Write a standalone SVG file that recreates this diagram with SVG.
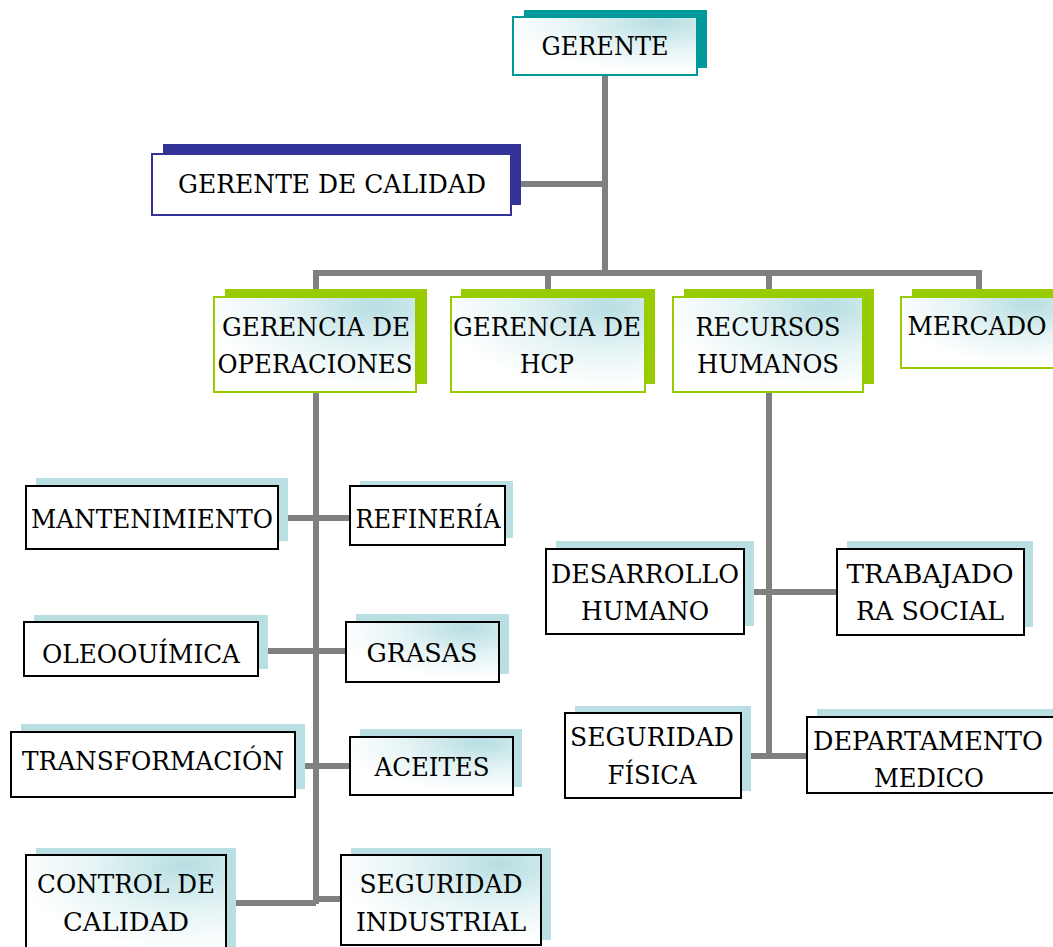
<svg xmlns="http://www.w3.org/2000/svg" width="1053" height="947" viewBox="0 0 1053 947">
<defs>
<radialGradient id="g" cx="0.8" cy="0.1" r="0.85" fx="0.8" fy="0.1">
<stop offset="0" stop-color="#b7dee2"/>
<stop offset="0.55" stop-color="#e6f4f5"/>
<stop offset="1" stop-color="#ffffff"/>
</radialGradient>
</defs>
<style>
text{font-family:"DejaVu Serif","Liberation Serif","Times New Roman",serif;font-size:25.5px;fill:#000;text-anchor:middle}
.c{stroke:#808080;stroke-width:6;fill:none}
.sh{fill:#b9dfe3}
.shg{fill:#99cc00}
.b{fill:#fff;stroke:#000;stroke-width:2}
.bg{fill:url(#g);stroke:#000;stroke-width:2}
.gb{fill:url(#g);stroke:#99cc00;stroke-width:2}
</style>
<rect width="1053" height="947" fill="#fff"/>
<g id="connectors">
<path class="c" d="M605 75V273M512 184H605M313 273H982M316 273V297M548 273V297M769 273V297M979 273V297"/>
<path class="c" d="M316 392V904M288 518H350M268 651H346M305 766H350M236 903H316M316 899H341"/>
<path class="c" d="M769 392V757M754 592H837M751 756H807"/>
</g>
<g id="gerente">
<rect x="524" y="10" width="183" height="58" fill="#009999"/>
<rect x="513" y="17" width="184" height="58" fill="url(#g)" stroke="#009999" stroke-width="2"/>
<text x="605" y="55" textLength="127" lengthAdjust="spacingAndGlyphs">GERENTE</text>
</g>
<g id="gerente-calidad">
<rect x="163" y="144" width="358" height="61" fill="#333399"/>
<rect x="152" y="154" width="359" height="61" fill="#fff" stroke="#333399" stroke-width="2"/>
<text x="332" y="193" textLength="308" lengthAdjust="spacingAndGlyphs">GERENTE DE CALIDAD</text>
</g>
<g id="operaciones">
<rect class="shg" x="225" y="289" width="202" height="95"/>
<rect class="gb" x="214" y="297" width="202" height="95"/>
<text x="316" y="336" textLength="188" lengthAdjust="spacingAndGlyphs">GERENCIA DE</text>
<text x="315" y="373" textLength="195" lengthAdjust="spacingAndGlyphs">OPERACIONES</text>
</g>
<g id="hcp">
<rect class="shg" x="461" y="289" width="194" height="95"/>
<rect class="gb" x="451" y="297" width="194" height="95"/>
<text x="547" y="336" textLength="188" lengthAdjust="spacingAndGlyphs">GERENCIA DE</text>
<text x="547" y="373" textLength="54" lengthAdjust="spacingAndGlyphs">HCP</text>
</g>
<g id="rrhh">
<rect class="shg" x="684" y="289" width="190" height="95"/>
<rect class="gb" x="673" y="297" width="190" height="95"/>
<text x="768" y="336" textLength="145" lengthAdjust="spacingAndGlyphs">RECURSOS</text>
<text x="768" y="373" textLength="142" lengthAdjust="spacingAndGlyphs">HUMANOS</text>
</g>
<g id="mercado">
<rect class="shg" x="912" y="289" width="150" height="70"/>
<rect class="gb" x="901" y="297" width="160" height="71"/>
<text x="977" y="335" textLength="139" lengthAdjust="spacingAndGlyphs">MERCADO</text>
</g>
<g id="mantenimiento">
<rect class="sh" x="36" y="478" width="252" height="63"/>
<rect class="b" x="26" y="486" width="252" height="63"/>
<text x="152" y="528" textLength="242" lengthAdjust="spacingAndGlyphs">MANTENIMIENTO</text>
</g>
<g id="refineria">
<rect class="sh" x="360" y="481" width="153" height="57"/>
<rect class="b" x="350" y="486" width="155" height="59"/>
<text x="428" y="528" textLength="145" lengthAdjust="spacingAndGlyphs">REFINERÍA</text>
</g>
<g id="oleoquimica">
<rect class="sh" x="34" y="615" width="234" height="54"/>
<rect class="b" x="24" y="622" width="234" height="54"/>
<text x="141" y="663" textLength="198" lengthAdjust="spacingAndGlyphs">OLEOOUÍMICA</text>
</g>
<g id="grasas">
<rect class="sh" x="356" y="614" width="153" height="60"/>
<rect class="bg" x="346" y="622" width="153" height="60"/>
<text x="422" y="662" textLength="111" lengthAdjust="spacingAndGlyphs">GRASAS</text>
</g>
<g id="transformacion">
<rect class="sh" x="21" y="724" width="284" height="65"/>
<rect class="b" x="11" y="732" width="284" height="65"/>
<text x="153" y="770" textLength="262" lengthAdjust="spacingAndGlyphs">TRANSFORMACIÓN</text>
</g>
<g id="aceites">
<rect class="sh" x="360" y="729" width="162" height="58"/>
<rect class="bg" x="350" y="737" width="163" height="58"/>
<text x="432" y="776" textLength="115" lengthAdjust="spacingAndGlyphs">ACEITES</text>
</g>
<g id="control-calidad">
<rect class="sh" x="36" y="848" width="200" height="105"/>
<rect class="bg" x="26" y="855" width="200" height="100"/>
<text x="126" y="893" textLength="178" lengthAdjust="spacingAndGlyphs">CONTROL DE</text>
<text x="126" y="931" textLength="126" lengthAdjust="spacingAndGlyphs">CALIDAD</text>
</g>
<g id="seguridad-industrial">
<rect class="sh" x="351" y="848" width="200" height="92"/>
<rect class="bg" x="341" y="855" width="200" height="90"/>
<text x="441" y="893" textLength="163" lengthAdjust="spacingAndGlyphs">SEGURIDAD</text>
<text x="441" y="931" textLength="170" lengthAdjust="spacingAndGlyphs">INDUSTRIAL</text>
</g>
<g id="desarrollo">
<rect class="sh" x="556" y="541" width="198" height="85"/>
<rect class="b" x="546" y="549" width="198" height="85"/>
<text x="645" y="583" textLength="188" lengthAdjust="spacingAndGlyphs">DESARROLLO</text>
<text x="645" y="620" textLength="128" lengthAdjust="spacingAndGlyphs">HUMANO</text>
</g>
<g id="trabajadora">
<rect class="sh" x="847" y="541" width="186" height="86"/>
<rect class="b" x="837" y="549" width="187" height="86"/>
<text x="930" y="583" textLength="167" lengthAdjust="spacingAndGlyphs">TRABAJADO</text>
<text x="930" y="620" textLength="148" lengthAdjust="spacingAndGlyphs">RA SOCIAL</text>
</g>
<g id="seguridad-fisica">
<rect class="sh" x="575" y="706" width="176" height="85"/>
<rect class="b" x="565" y="713" width="176" height="85"/>
<text x="652" y="746" textLength="164" lengthAdjust="spacingAndGlyphs">SEGURIDAD</text>
<text x="652" y="784" textLength="89" lengthAdjust="spacingAndGlyphs">FÍSICA</text>
</g>
<g id="departamento">
<rect class="sh" x="817" y="709" width="250" height="76"/>
<rect class="b" x="807" y="717" width="260" height="76"/>
<text x="928" y="750" textLength="230" lengthAdjust="spacingAndGlyphs">DEPARTAMENTO</text>
<text x="929" y="787" textLength="110" lengthAdjust="spacingAndGlyphs">MEDICO</text>
</g>
</svg>
